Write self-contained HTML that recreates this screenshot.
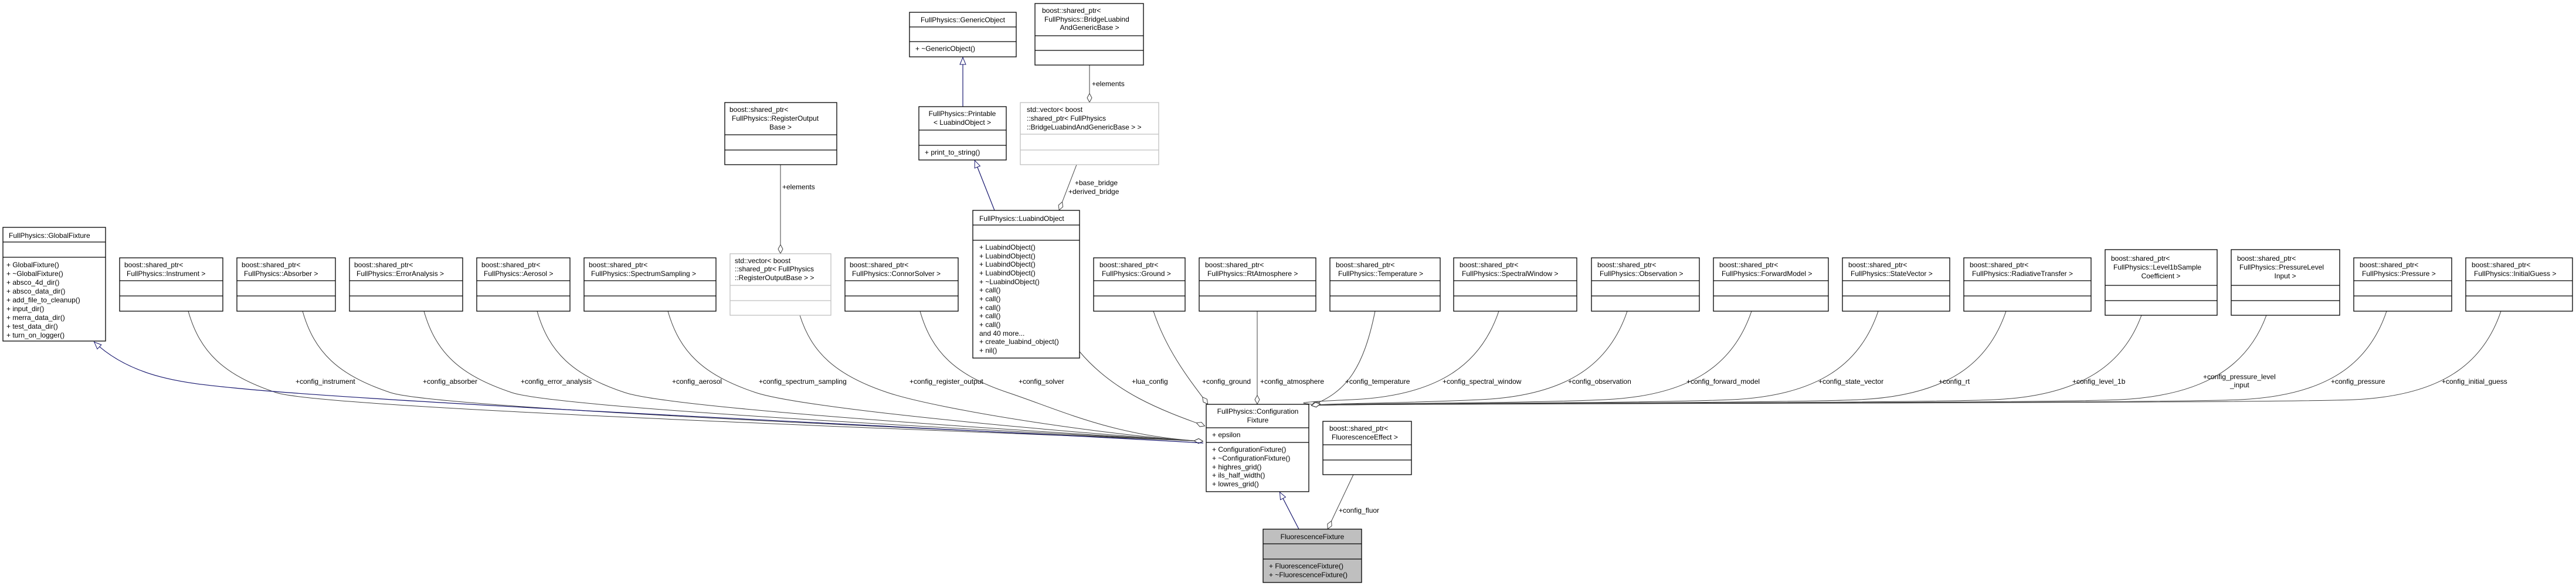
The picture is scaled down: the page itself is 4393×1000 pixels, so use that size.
<!DOCTYPE html>
<html><head><meta charset="utf-8"><style>
html,body{margin:0;padding:0;background:#fff;}
svg{display:block;}
text{font-family:"Liberation Sans",Arial,sans-serif;font-size:12px;fill:#000;}
.b{fill:#fff;stroke:#000;stroke-width:1.3;}
.g{fill:#fff;stroke:#bfbfbf;stroke-width:1.3;}
.l{stroke:#000;stroke-width:1.3;}
.lg{stroke:#bfbfbf;stroke-width:1.3;}
.e{fill:none;stroke:#404040;stroke-width:1;marker-end:url(#d);}
.i{fill:none;stroke:#191970;stroke-width:1.2;marker-end:url(#t);}
</style></head><body>
<svg width="4393" height="1000" viewBox="0 0 4393 1000" xmlns="http://www.w3.org/2000/svg">
<defs>
<marker id="d" viewBox="0 0 16 10" refX="16" refY="5" markerWidth="16" markerHeight="10" markerUnits="userSpaceOnUse" orient="auto"><path d="M0.5,5 L8,1 L15.5,5 L8,9 Z" fill="#fff" stroke="#404040"/></marker>
<marker id="t" viewBox="0 0 14 12" refX="14" refY="6" markerWidth="14" markerHeight="12" markerUnits="userSpaceOnUse" orient="auto"><path d="M1,1 L13,6 L1,11 Z" fill="#fff" stroke="#191970"/></marker>
</defs>
<rect width="4393" height="1000" fill="#fff"/>

<!-- connectors: left aggregation bundle -->
<path class="e" d="M321,531 C341,601 381,640 471,670 S1900,745 2052,753"/>
<path class="e" d="M516,531 C536,601 576,640 666,670 S1900,745 2052,753"/>
<path class="e" d="M723,531 C743,601 783,640 873,670 S1900,745 2052,753"/>
<path class="e" d="M916,531 C936,601 976,640 1066,670 S1900,745 2052,753"/>
<path class="e" d="M1139,531 C1159,601 1199,640 1289,670 S1900,745 2052,753"/>
<path class="e" d="M1364,538 C1384,601 1424,640 1514,670 S1900,745 2052,753"/>
<path class="e" d="M1569,531 C1589,601 1629,640 1719,670 S1900,745 2052,753"/>
<path class="e" d="M1841,600 C1900,670 1980,700 2055,727"/>
<path class="e" d="M1967,531 C1990,600 2030,650 2060,690"/>
<path class="e" d="M2144,531 L2144,690"/>
<!-- inheritance to GlobalFixture -->
<path class="i" d="M2052,756 C1600,730 700,690 420,664 C330,655 230,650 160,583"/>
<!-- right aggregation bundle -->
<path class="e" d="M2345,531 C2325,630 2295,670 2236,692"/>
<path class="e" d="M2556,531 C2526,620 2456,675 2306,682 S2260,688 2236,692"/>
<path class="e" d="M2775,531 C2745,620 2675,675 2525,682 S2260,688 2236,692"/>
<path class="e" d="M2987,531 C2957,620 2887,675 2737,682 S2260,688 2236,692"/>
<path class="e" d="M3203,531 C3173,620 3103,675 2953,682 S2260,688 2236,692"/>
<path class="e" d="M3421,531 C3391,620 3321,675 3171,682 S2260,688 2236,692"/>
<path class="e" d="M3652,538 C3622,620 3552,675 3402,682 S2260,688 2236,692"/>
<path class="e" d="M3865,538 C3835,620 3765,675 3615,682 S2260,688 2236,692"/>
<path class="e" d="M4070,531 C4040,620 3970,675 3820,682 S2260,688 2236,692"/>
<path class="e" d="M4265,531 C4235,620 4165,675 4015,682 S2260,688 2236,692"/>
<!-- upper connectors -->
<path class="e" d="M1331,281 L1331,433"/>
<path class="e" d="M1858,111 L1858,175"/>
<path class="e" d="M1836,281 L1806,359"/>
<path class="i" d="M1642,182 L1642,97"/>
<path class="i" d="M1696,359 L1662,273"/>
<path class="i" d="M2215,903 L2182,839"/>
<path class="e" d="M2308,810 L2264,903"/>

<!-- labels -->
<text x="504" y="655">+config_instrument</text>
<text x="721" y="655">+config_absorber</text>
<text x="888" y="655">+config_error_analysis</text>
<text x="1146" y="655">+config_aerosol</text>
<text x="1294" y="655">+config_spectrum_sampling</text>
<text x="1551" y="655">+config_register_output</text>
<text x="1737" y="655">+config_solver</text>
<text x="1930" y="655">+lua_config</text>
<text x="2050" y="655">+config_ground</text>
<text x="2149" y="655">+config_atmosphere</text>
<text x="2294" y="655">+config_temperature</text>
<text x="2460" y="655">+config_spectral_window</text>
<text x="2674" y="655">+config_observation</text>
<text x="2876" y="655">+config_forward_model</text>
<text x="3101" y="655">+config_state_vector</text>
<text x="3306" y="655">+config_rt</text>
<text x="3534" y="655">+config_level_1b</text>
<text x="3757" y="647">+config_pressure_level</text>
<text x="3803" y="661">_input</text>
<text x="3975" y="655">+config_pressure</text>
<text x="4164" y="655">+config_initial_guess</text>
<text x="1334" y="323">+elements</text>
<text x="1862" y="147">+elements</text>
<text x="1833" y="316">+base_bridge</text>
<text x="1822" y="331">+derived_bridge</text>
<text x="2283" y="875">+config_fluor</text>

<!-- GlobalFixture -->
<rect class="b" x="5" y="388" width="175" height="194"/>
<line class="l" x1="5" y1="413" x2="180" y2="413"/><line class="l" x1="5" y1="439" x2="180" y2="439"/>
<text x="15" y="406">FullPhysics::GlobalFixture</text>
<text x="11" y="456">+ GlobalFixture()</text>
<text x="11" y="471">+ ~GlobalFixture()</text>
<text x="11" y="486">+ absco_4d_dir()</text>
<text x="11" y="501">+ absco_data_dir()</text>
<text x="11" y="516">+ add_file_to_cleanup()</text>
<text x="11" y="531">+ input_dir()</text>
<text x="11" y="546">+ merra_data_dir()</text>
<text x="11" y="561">+ test_data_dir()</text>
<text x="11" y="576">+ turn_on_logger()</text>

<!-- shared_ptr boxes (y 440..531) -->
<g>
<rect class="b" x="204" y="440" width="176" height="91"/><line class="l" x1="204" y1="479" x2="380" y2="479"/><line class="l" x1="204" y1="505" x2="380" y2="505"/>
<text x="212" y="456">boost::shared_ptr&lt;</text><text x="216" y="471">FullPhysics::Instrument &gt;</text>
</g>
<g>
<rect class="b" x="404" y="440" width="168" height="91"/><line class="l" x1="404" y1="479" x2="572" y2="479"/><line class="l" x1="404" y1="505" x2="572" y2="505"/>
<text x="412" y="456">boost::shared_ptr&lt;</text><text x="416" y="471">FullPhysics::Absorber &gt;</text>
</g>
<g>
<rect class="b" x="596" y="440" width="193" height="91"/><line class="l" x1="596" y1="479" x2="789" y2="479"/><line class="l" x1="596" y1="505" x2="789" y2="505"/>
<text x="604" y="456">boost::shared_ptr&lt;</text><text x="608" y="471">FullPhysics::ErrorAnalysis &gt;</text>
</g>
<g>
<rect class="b" x="813" y="440" width="159" height="91"/><line class="l" x1="813" y1="479" x2="972" y2="479"/><line class="l" x1="813" y1="505" x2="972" y2="505"/>
<text x="821" y="456">boost::shared_ptr&lt;</text><text x="825" y="471">FullPhysics::Aerosol &gt;</text>
</g>
<g>
<rect class="b" x="996" y="440" width="225" height="91"/><line class="l" x1="996" y1="479" x2="1221" y2="479"/><line class="l" x1="996" y1="505" x2="1221" y2="505"/>
<text x="1004" y="456">boost::shared_ptr&lt;</text><text x="1008" y="471">FullPhysics::SpectrumSampling &gt;</text>
</g>
<g>
<rect class="g" x="1245" y="433" width="172" height="105"/><line class="lg" x1="1245" y1="487" x2="1417" y2="487"/><line class="lg" x1="1245" y1="513" x2="1417" y2="513"/>
<text x="1253" y="449">std::vector&lt; boost</text><text x="1253" y="463">::shared_ptr&lt; FullPhysics</text><text x="1253" y="478">::RegisterOutputBase &gt; &gt;</text>
</g>
<g>
<rect class="b" x="1236" y="175" width="191" height="106"/><line class="l" x1="1236" y1="230" x2="1427" y2="230"/><line class="l" x1="1236" y1="256" x2="1427" y2="256"/>
<text x="1244" y="191">boost::shared_ptr&lt;</text><text x="1248" y="206">FullPhysics::RegisterOutput</text><text x="1331" y="221" text-anchor="middle">Base &gt;</text>
</g>
<g>
<rect class="b" x="1441" y="440" width="193" height="91"/><line class="l" x1="1441" y1="479" x2="1634" y2="479"/><line class="l" x1="1441" y1="505" x2="1634" y2="505"/>
<text x="1449" y="456">boost::shared_ptr&lt;</text><text x="1453" y="471">FullPhysics::ConnorSolver &gt;</text>
</g>

<!-- LuabindObject -->
<rect class="b" x="1659" y="359" width="182" height="252"/>
<line class="l" x1="1659" y1="384" x2="1841" y2="384"/><line class="l" x1="1659" y1="410" x2="1841" y2="410"/>
<text x="1670" y="377">FullPhysics::LuabindObject</text>
<text x="1670" y="426">+ LuabindObject()</text>
<text x="1670" y="441">+ LuabindObject()</text>
<text x="1670" y="455">+ LuabindObject()</text>
<text x="1670" y="470">+ LuabindObject()</text>
<text x="1670" y="485">+ ~LuabindObject()</text>
<text x="1670" y="499">+ call()</text>
<text x="1670" y="514">+ call()</text>
<text x="1670" y="529">+ call()</text>
<text x="1670" y="543">+ call()</text>
<text x="1670" y="558">+ call()</text>
<text x="1670" y="573">and 40 more...</text>
<text x="1670" y="587">+ create_luabind_object()</text>
<text x="1670" y="602">+ nil()</text>

<!-- Printable -->
<rect class="b" x="1567" y="182" width="149" height="91"/>
<line class="l" x1="1567" y1="222" x2="1716" y2="222"/><line class="l" x1="1567" y1="248" x2="1716" y2="248"/>
<text x="1641" y="198" text-anchor="middle">FullPhysics::Printable</text>
<text x="1641" y="213" text-anchor="middle">&lt; LuabindObject &gt;</text>
<text x="1577" y="264">+ print_to_string()</text>

<!-- GenericObject -->
<rect class="b" x="1551" y="21" width="182" height="76"/>
<line class="l" x1="1551" y1="46" x2="1733" y2="46"/><line class="l" x1="1551" y1="71" x2="1733" y2="71"/>
<text x="1642" y="38" text-anchor="middle">FullPhysics::GenericObject</text>
<text x="1561" y="87">+ ~GenericObject()</text>

<!-- Bridge shared_ptr -->
<rect class="b" x="1765" y="6" width="185" height="105"/>
<line class="l" x1="1765" y1="61" x2="1950" y2="61"/><line class="l" x1="1765" y1="86" x2="1950" y2="86"/>
<text x="1777" y="22">boost::shared_ptr&lt;</text><text x="1781" y="37">FullPhysics::BridgeLuabind</text><text x="1858" y="51" text-anchor="middle">AndGenericBase &gt;</text>

<!-- vector Bridge -->
<rect class="g" x="1740" y="175" width="236" height="106"/>
<line class="lg" x1="1740" y1="229" x2="1976" y2="229"/><line class="lg" x1="1740" y1="256" x2="1976" y2="256"/>
<text x="1751" y="191">std::vector&lt; boost</text><text x="1751" y="206">::shared_ptr&lt; FullPhysics</text><text x="1751" y="221">::BridgeLuabindAndGenericBase &gt; &gt;</text>

<!-- right shared_ptr boxes -->
<g>
<rect class="b" x="1865" y="440" width="156" height="91"/><line class="l" x1="1865" y1="479" x2="2021" y2="479"/><line class="l" x1="1865" y1="505" x2="2021" y2="505"/>
<text x="1875" y="456">boost::shared_ptr&lt;</text><text x="1879" y="471">FullPhysics::Ground &gt;</text>
</g>
<g>
<rect class="b" x="2045" y="440" width="199" height="91"/><line class="l" x1="2045" y1="479" x2="2244" y2="479"/><line class="l" x1="2045" y1="505" x2="2244" y2="505"/>
<text x="2055" y="456">boost::shared_ptr&lt;</text><text x="2059" y="471">FullPhysics::RtAtmosphere &gt;</text>
</g>
<g>
<rect class="b" x="2268" y="440" width="188" height="91"/><line class="l" x1="2268" y1="479" x2="2456" y2="479"/><line class="l" x1="2268" y1="505" x2="2456" y2="505"/>
<text x="2278" y="456">boost::shared_ptr&lt;</text><text x="2282" y="471">FullPhysics::Temperature &gt;</text>
</g>
<g>
<rect class="b" x="2479" y="440" width="210" height="91"/><line class="l" x1="2479" y1="479" x2="2689" y2="479"/><line class="l" x1="2479" y1="505" x2="2689" y2="505"/>
<text x="2489" y="456">boost::shared_ptr&lt;</text><text x="2493" y="471">FullPhysics::SpectralWindow &gt;</text>
</g>
<g>
<rect class="b" x="2714" y="440" width="184" height="91"/><line class="l" x1="2714" y1="479" x2="2898" y2="479"/><line class="l" x1="2714" y1="505" x2="2898" y2="505"/>
<text x="2724" y="456">boost::shared_ptr&lt;</text><text x="2728" y="471">FullPhysics::Observation &gt;</text>
</g>
<g>
<rect class="b" x="2922" y="440" width="196" height="91"/><line class="l" x1="2922" y1="479" x2="3118" y2="479"/><line class="l" x1="2922" y1="505" x2="3118" y2="505"/>
<text x="2932" y="456">boost::shared_ptr&lt;</text><text x="2936" y="471">FullPhysics::ForwardModel &gt;</text>
</g>
<g>
<rect class="b" x="3142" y="440" width="183" height="91"/><line class="l" x1="3142" y1="479" x2="3325" y2="479"/><line class="l" x1="3142" y1="505" x2="3325" y2="505"/>
<text x="3152" y="456">boost::shared_ptr&lt;</text><text x="3156" y="471">FullPhysics::StateVector &gt;</text>
</g>
<g>
<rect class="b" x="3349" y="440" width="217" height="91"/><line class="l" x1="3349" y1="479" x2="3566" y2="479"/><line class="l" x1="3349" y1="505" x2="3566" y2="505"/>
<text x="3359" y="456">boost::shared_ptr&lt;</text><text x="3363" y="471">FullPhysics::RadiativeTransfer &gt;</text>
</g>
<g>
<rect class="b" x="3590" y="426" width="191" height="112"/><line class="l" x1="3590" y1="487" x2="3781" y2="487"/><line class="l" x1="3590" y1="513" x2="3781" y2="513"/>
<text x="3600" y="445">boost::shared_ptr&lt;</text><text x="3604" y="460">FullPhysics::Level1bSample</text><text x="3685" y="475" text-anchor="middle">Coefficient &gt;</text>
</g>
<g>
<rect class="b" x="3805" y="426" width="185" height="112"/><line class="l" x1="3805" y1="487" x2="3990" y2="487"/><line class="l" x1="3805" y1="513" x2="3990" y2="513"/>
<text x="3815" y="445">boost::shared_ptr&lt;</text><text x="3819" y="460">FullPhysics::PressureLevel</text><text x="3897" y="475" text-anchor="middle">Input &gt;</text>
</g>
<g>
<rect class="b" x="4014" y="440" width="167" height="91"/><line class="l" x1="4014" y1="479" x2="4181" y2="479"/><line class="l" x1="4014" y1="505" x2="4181" y2="505"/>
<text x="4024" y="456">boost::shared_ptr&lt;</text><text x="4028" y="471">FullPhysics::Pressure &gt;</text>
</g>
<g>
<rect class="b" x="4205" y="440" width="182" height="91"/><line class="l" x1="4205" y1="479" x2="4387" y2="479"/><line class="l" x1="4205" y1="505" x2="4387" y2="505"/>
<text x="4215" y="456">boost::shared_ptr&lt;</text><text x="4219" y="471">FullPhysics::InitialGuess &gt;</text>
</g>

<!-- ConfigurationFixture -->
<rect class="b" x="2057" y="690" width="175" height="149"/>
<line class="l" x1="2057" y1="730" x2="2232" y2="730"/><line class="l" x1="2057" y1="755" x2="2232" y2="755"/>
<text x="2145" y="706" text-anchor="middle">FullPhysics::Configuration</text>
<text x="2145" y="721" text-anchor="middle">Fixture</text>
<text x="2067" y="746">+ epsilon</text>
<text x="2067" y="771">+ ConfigurationFixture()</text>
<text x="2067" y="786">+ ~ConfigurationFixture()</text>
<text x="2067" y="801">+ highres_grid()</text>
<text x="2067" y="815">+ ils_half_width()</text>
<text x="2067" y="830">+ lowres_grid()</text>

<!-- Fluorescence shared_ptr -->
<rect class="b" x="2256" y="719" width="151" height="91"/>
<line class="l" x1="2256" y1="759" x2="2407" y2="759"/><line class="l" x1="2256" y1="785" x2="2407" y2="785"/>
<text x="2267" y="735">boost::shared_ptr&lt;</text><text x="2271" y="750">FluorescenceEffect &gt;</text>

<!-- FluorescenceFixture -->
<rect x="2154" y="903" width="168" height="91" fill="#bfbfbf" stroke="#000" stroke-width="1.3"/>
<line class="l" x1="2154" y1="928" x2="2322" y2="928"/><line class="l" x1="2154" y1="954" x2="2322" y2="954"/>
<text x="2238" y="920" text-anchor="middle">FluorescenceFixture</text>
<text x="2164" y="970">+ FluorescenceFixture()</text>
<text x="2164" y="985">+ ~FluorescenceFixture()</text>
</svg>
</body></html>
